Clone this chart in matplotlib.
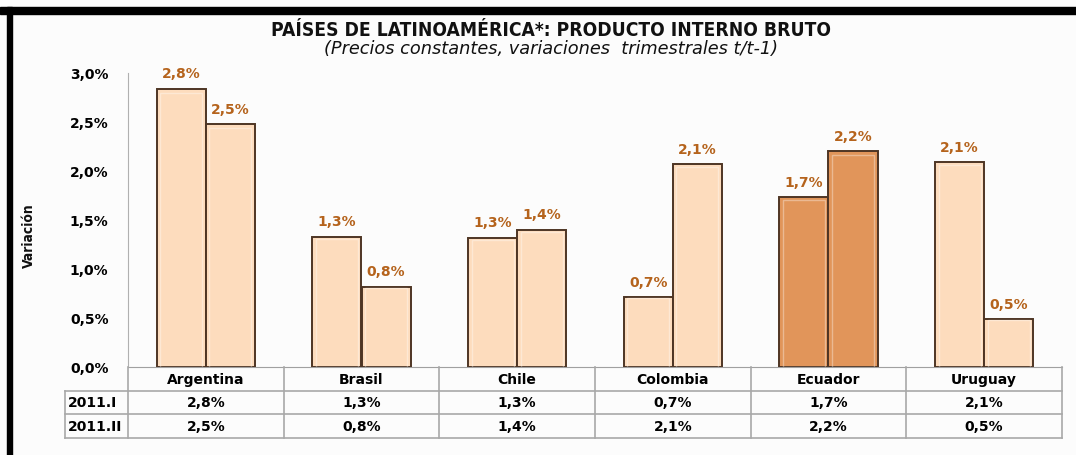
import matplotlib
matplotlib.use("Agg")
import matplotlib.pyplot as plt
from matplotlib.patches import Rectangle
from matplotlib.lines import Line2D
from matplotlib import font_manager
import numpy as np

categories = ["Argentina", "Brasil", "Chile", "Colombia", "Ecuador", "Uruguay"]
series_names = ["2011.I", "2011.II"]
q1 = [2.84, 1.33, 1.32, 0.71, 1.73, 2.09]
q2 = [2.48, 0.82, 1.40, 2.07, 2.20, 0.49]
highlight = "Ecuador"
yticks = [0.0, 0.5, 1.0, 1.5, 2.0, 2.5, 3.0]

W, H = 1076, 456
fig = plt.figure(figsize=(W / 100, H / 100), dpi=100)
fig.patch.set_facecolor("#fcfcfc")

names = {f.name for f in font_manager.fontManager.ttflist}
condensed = any("Condensed" in f.fname for f in font_manager.fontManager.ttflist
                if f.name == "DejaVu Sans")
narrow_family = ["Liberation Sans Narrow"] if "Liberation Sans Narrow" in names else ["DejaVu Sans"]
narrow_stretch = "condensed" if (narrow_family == ["DejaVu Sans"] and condensed) else "normal"

def fx(px):
    return px / W

def fy(py):
    return 1 - py / H

# black frame bands
fig.patches.append(Rectangle((0, fy(15)), 1, fy(8) - fy(15), transform=fig.transFigure,
                             color="black", zorder=0))
fig.patches.append(Rectangle((fx(7), 0), fx(5), fy(8), transform=fig.transFigure,
                             color="black", zorder=0))

ax_l, ax_r, ax_t, ax_b = 128, 1062, 74, 368
ax = fig.add_axes([fx(ax_l), fy(ax_b), fx(ax_r) - fx(ax_l), fy(ax_t) - fy(ax_b)])
ax.set_facecolor("none")
ax.set_xlim(-0.5, len(categories) - 0.5)
ax.set_ylim(0, 3.0)

light = "#FDDCBD"
dark = "#E1955A"
edge = "#4E3524"
lab_col = "#B5631C"
bw = 0.315
x = np.arange(len(categories))
for i, c in enumerate(categories):
    fc = dark if c == highlight else light
    for off, v in ((-bw / 2, q1[i]), (bw / 2, q2[i])):
        ax.bar(x[i] + off, v, width=bw, color=fc, edgecolor=edge, linewidth=1.4, zorder=3)
        ax.bar(x[i] + off, v * 0.985, width=bw * 0.86, color="none",
               edgecolor=(1, 1, 1, 0.35), linewidth=1.0, zorder=4)
        ax.annotate(f"{v:.1f}%".replace(".", ","), (x[i] + off, v), xytext=(0, 6),
                    textcoords="offset points", ha="center", va="bottom",
                    fontsize=10, fontweight="bold", color=lab_col, zorder=5)

ax.set_yticks(yticks)
ax.set_yticklabels([f"{t:.1f}%".replace(".", ",") for t in yticks],
                   fontsize=10, fontweight="bold")
ax.tick_params(axis="y", length=0, pad=14)
ax.tick_params(axis="x", length=0, labelbottom=False)
for s in ("top", "right"):
    ax.spines[s].set_visible(False)
ax.spines["left"].set_color("#b0b0b0")
ax.spines["bottom"].set_color("#a0a0a0")
ax.grid(False)

# y label
fig.text(fx(29), fy(236), "Variación", rotation=90, ha="center", va="center",
         fontsize=10, fontweight="bold", family=narrow_family, stretch=narrow_stretch,
         color="#111111")

# title
fig.text(fx(551), fy(30), "PAÍSES DE LATINOAMÉRICA*: PRODUCTO INTERNO BRUTO",
         ha="center", va="center", fontsize=13.8, fontweight="bold",
         family=narrow_family, stretch=narrow_stretch, color="#111111")
fig.text(fx(551), fy(49), "(Precios constantes, variaciones  trimestrales t/t-1)",
         ha="center", va="center", fontsize=12.8, style="italic",
         family="DejaVu Sans", color="#111111")

# data table
gc = "#a8a8a8"
rows_y = [368, 392, 415, 439]
col_x = [ax_l + k * (ax_r - ax_l) / len(categories) for k in range(len(categories) + 1)]
lab_x0 = 65
for yy in rows_y[1:]:
    fig.lines.append(Line2D([fx(lab_x0), fx(ax_r)], [fy(yy), fy(yy)], color=gc, lw=1.2,
                            transform=fig.transFigure))
for cx in col_x:
    fig.lines.append(Line2D([fx(cx), fx(cx)], [fy(368), fy(439)], color=gc, lw=1.2,
                            transform=fig.transFigure))
fig.lines.append(Line2D([fx(lab_x0), fx(lab_x0)], [fy(392), fy(439)], color=gc, lw=1.2,
                        transform=fig.transFigure))

for i, c in enumerate(categories):
    cx = (col_x[i] + col_x[i + 1]) / 2
    fig.text(fx(cx), fy((rows_y[0] + rows_y[1]) / 2), c, ha="center", va="center",
             fontsize=10, fontweight="bold")
    for r, vals in enumerate((q1, q2)):
        fig.text(fx(cx), fy((rows_y[r + 1] + rows_y[r + 2]) / 2),
                 f"{vals[i]:.1f}%".replace(".", ","), ha="center", va="center",
                 fontsize=10, fontweight="bold")
for r, name in enumerate(series_names):
    fig.text(fx(lab_x0 + 3), fy((rows_y[r + 1] + rows_y[r + 2]) / 2), name,
             ha="left", va="center", fontsize=10, fontweight="bold")

fig.savefig("out.png", dpi=100, facecolor=fig.get_facecolor())
